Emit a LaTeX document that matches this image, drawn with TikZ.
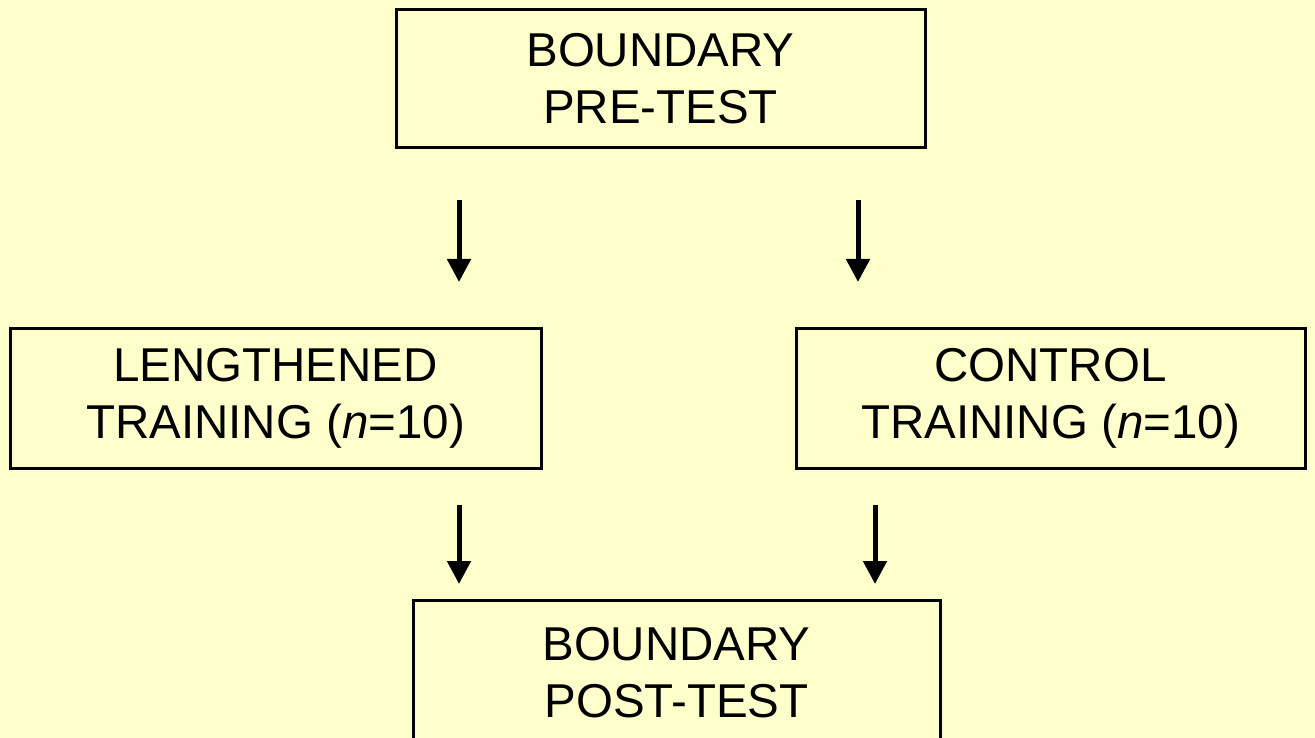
\documentclass[tikz,border=0pt]{standalone}
\usepackage{fontspec}
\setmainfont{Liberation Sans}
\usetikzlibrary{arrows.meta}
\definecolor{bgyellow}{HTML}{FFFFCC}
\tikzset{
  box/.style={draw=black, line width=3pt, align=center, inner sep=0pt,
    font=\fontsize{47.5}{57}\selectfont},
  flow/.style={line width=5pt, -{Triangle[width=23pt,length=23pt]}}
}
\begin{document}
\begin{tikzpicture}[x=1pt,y=-1pt]
\useasboundingbox (0,0) rectangle (1315,738);
\fill[bgyellow] (0,0) rectangle (1315,738);
\clip (0,0) rectangle (1315,738);
\node[box, minimum width=529pt, minimum height=138pt] (pre) at (660.5,79) {BOUNDARY\\PRE-TEST};
\node[box, minimum width=531pt, minimum height=140pt] (len) at (275.5,398) {LENGTHENED\\TRAINING (\textit{n}=10)};
\node[box, minimum width=509pt, minimum height=140pt] (con) at (1050.5,398) {CONTROL\\TRAINING (\textit{n}=10)};
\node[box, minimum width=527pt, minimum height=146pt] (post) at (676.5,673) {BOUNDARY\\POST-TEST};
\coordinate (a1s) at (459,200); \coordinate (a1e) at (459,282);
\coordinate (a2s) at (858,200); \coordinate (a2e) at (858,282);
\coordinate (a3s) at (459,505); \coordinate (a3e) at (459,584);
\coordinate (a4s) at (875,505); \coordinate (a4e) at (875,584);
\draw[flow] (a1s) -- (a1e);
\draw[flow] (a2s) -- (a2e);
\draw[flow] (a3s) -- (a3e);
\draw[flow] (a4s) -- (a4e);
\end{tikzpicture}
\end{document}
